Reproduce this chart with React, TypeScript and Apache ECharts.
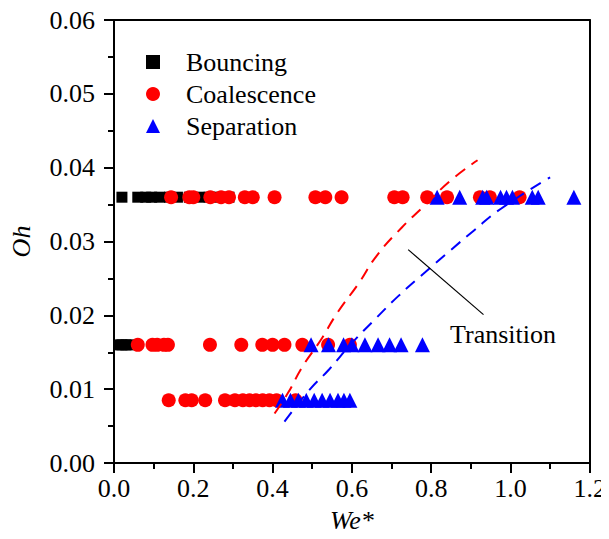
import React, { useEffect, useRef } from "react";
import * as echarts from "echarts";

const OH_ROWS = [0.036, 0.016, 0.0085];

const bouncingWe: number[][] = [
  [0.02, 0.06, 0.08, 0.095, 0.115, 0.14, 0.16, 0.19, 0.215, 0.24, 0.265, 0.29],
  [0.012, 0.02, 0.03, 0.04],
  [],
];

const coalescenceWe: number[][] = [
  [0.144, 0.19, 0.2, 0.243, 0.27, 0.29, 0.33, 0.35, 0.405, 0.508, 0.533, 0.574, 0.707, 0.728, 0.79, 0.84, 0.923, 0.948, 1.023],
  [0.06, 0.097, 0.109, 0.126, 0.136, 0.242, 0.321, 0.374, 0.4, 0.43, 0.475, 0.54, 0.595],
  [0.138, 0.18, 0.196, 0.23, 0.28, 0.305, 0.325, 0.342, 0.358, 0.375, 0.392, 0.41, 0.458],
];

const separationWe: number[][] = [
  [0.815, 0.872, 0.93, 0.94, 0.975, 0.99, 1.005, 1.055, 1.07, 1.16],
  [0.497, 0.541, 0.579, 0.6, 0.633, 0.666, 0.695, 0.724, 0.778],
  [0.425, 0.445, 0.465, 0.485, 0.505, 0.525, 0.545, 0.565, 0.58, 0.595],
];

const redCurveWe = [0.405, 0.439, 0.476, 0.522, 0.564, 0.618, 0.663, 0.726, 0.784, 0.85, 0.917];
const redCurveOh = [0.0067, 0.0095, 0.0131, 0.0167, 0.0204, 0.0244, 0.0281, 0.0319, 0.0349, 0.0383, 0.041];
const blueCurveWe = [0.43, 0.493, 0.543, 0.601, 0.659, 0.717, 0.784, 0.842, 0.908, 0.975, 1.1];
const blueCurveOh = [0.0056, 0.0099, 0.0127, 0.0163, 0.0195, 0.0226, 0.0258, 0.0285, 0.0315, 0.0344, 0.0387];

const pointerWe = [0.742, 0.932];
const pointerOh = [0.0289, 0.0201];

const xTicks = [0, 0.2, 0.4, 0.6, 0.8, 1.0, 1.2];
const yTicks = [0, 0.01, 0.02, 0.03, 0.04, 0.05, 0.06];

const FONT = "Liberation Serif";

function rows(we: number[][]): number[][] {
  const out: number[][] = [];
  we.forEach((r, i) => r.forEach((x) => out.push([x, OH_ROWS[i]])));
  return out;
}

function zip(a: number[], b: number[]): number[][] {
  return a.map((x, i) => [x, b[i]]);
}

export default function App() {
  const ref = useRef<HTMLDivElement>(null);
  useEffect(() => {
    if (!ref.current) return;
    const chart = echarts.init(ref.current, null, { renderer: "svg" });
    const axisLineStyle = { color: "#000", width: 2 };
    chart.setOption({
      animation: false,
      backgroundColor: "#fff",
      textStyle: { fontFamily: FONT },
      grid: { left: 109, right: 18, top: 20, bottom: 76, containLabel: false },
      legend: {
        orient: "vertical",
        left: 141,
        top: 44,
        itemWidth: 14,
        itemHeight: 14,
        itemGap: 6,
        data: [
          { name: "Bouncing", itemStyle: { color: "#000" } },
          { name: "Coalescence" },
          { name: "Separation" },
        ],
        textStyle: { fontSize: 26, fontFamily: FONT, color: "#000", padding: [0, 0, 0, 21] },
      },
      xAxis: [
        {
          type: "value",
          min: 0,
          max: 1.2,
          interval: 0.2,
          name: "We*",
          nameLocation: "middle",
          nameGap: 44,
          nameTextStyle: { fontSize: 26, fontFamily: FONT, fontStyle: "italic", color: "#000" },
          axisLine: { show: true, onZero: false, lineStyle: axisLineStyle },
          axisTick: { show: true, inside: false, length: 10, lineStyle: { color: "#000", width: 2 } },
          minorTick: { show: true, splitNumber: 2, length: 6, lineStyle: { color: "#000", width: 2 } },
          axisLabel: {
            fontSize: 26,
            fontFamily: FONT,
            color: "#000",
            margin: 12,
            formatter: (v: number) => (xTicks.some((t) => Math.abs(t - v) < 1e-9) ? v.toFixed(1) : ""),
          },
          splitLine: { show: false },
        },
        {
          type: "value",
          min: 0,
          max: 1.2,
          position: "top",
          axisLine: { show: true, onZero: false, lineStyle: axisLineStyle },
          axisTick: { show: false },
          axisLabel: { show: false },
          splitLine: { show: false },
        },
      ],
      yAxis: [
        {
          type: "value",
          min: 0,
          max: 0.06,
          interval: 0.01,
          name: "Oh",
          nameLocation: "middle",
          nameGap: 80,
          nameRotate: 90,
          nameTextStyle: { fontSize: 26, fontFamily: FONT, fontStyle: "italic", color: "#000" },
          axisLine: { show: true, onZero: false, lineStyle: axisLineStyle },
          axisTick: { show: true, inside: false, length: 10, lineStyle: { color: "#000", width: 2 } },
          minorTick: { show: true, splitNumber: 2, length: 6, lineStyle: { color: "#000", width: 2 } },
          axisLabel: {
            fontSize: 26,
            fontFamily: FONT,
            color: "#000",
            margin: 19,
            formatter: (v: number) => (yTicks.some((t) => Math.abs(t - v) < 1e-9) ? v.toFixed(2) : ""),
          },
          splitLine: { show: false },
        },
        {
          type: "value",
          min: 0,
          max: 0.06,
          position: "right",
          axisLine: { show: true, onZero: false, lineStyle: axisLineStyle },
          axisTick: { show: false },
          axisLabel: { show: false },
          splitLine: { show: false },
        },
      ],
      series: [
        {
          name: "Bouncing",
          type: "scatter",
          symbol: "rect",
          symbolSize: 11,
          itemStyle: { color: "#000", opacity: 1 },
          data: rows(bouncingWe),
          z: 2,
        },
        {
          name: "Coalescence",
          type: "scatter",
          symbol: "circle",
          symbolSize: 14,
          itemStyle: { color: "#ff0000", opacity: 1 },
          data: rows(coalescenceWe),
          z: 3,
        },
        {
          name: "Separation",
          type: "scatter",
          symbol: "triangle",
          symbolSize: 15,
          itemStyle: { color: "#0000ff", opacity: 1 },
          data: rows(separationWe),
          z: 4,
        },
        {
          name: "redTransition",
          type: "line",
          smooth: true,
          showSymbol: false,
          lineStyle: { color: "#ff0000", width: 2, type: [12, 8] },
          data: zip(redCurveWe, redCurveOh),
          z: 5,
        },
        {
          name: "blueTransition",
          type: "line",
          smooth: true,
          showSymbol: false,
          lineStyle: { color: "#0000ff", width: 2, type: [12, 8] },
          data: zip(blueCurveWe, blueCurveOh),
          z: 5,
        },
        {
          name: "pointer",
          type: "line",
          showSymbol: false,
          lineStyle: { color: "#000", width: 1.2 },
          data: zip(pointerWe, pointerOh),
          z: 6,
        },
      ],
      graphic: [
        {
          type: "text",
          left: 450,
          top: 321,
          style: { text: "Transition", fontSize: 26, fontFamily: FONT, fill: "#000" },
        },
      ],
    });
    return () => chart.dispose();
  }, []);
  return <div ref={ref} style={{ width: 609, height: 539, marginLeft: -8, marginTop: -8 }} />;
}
